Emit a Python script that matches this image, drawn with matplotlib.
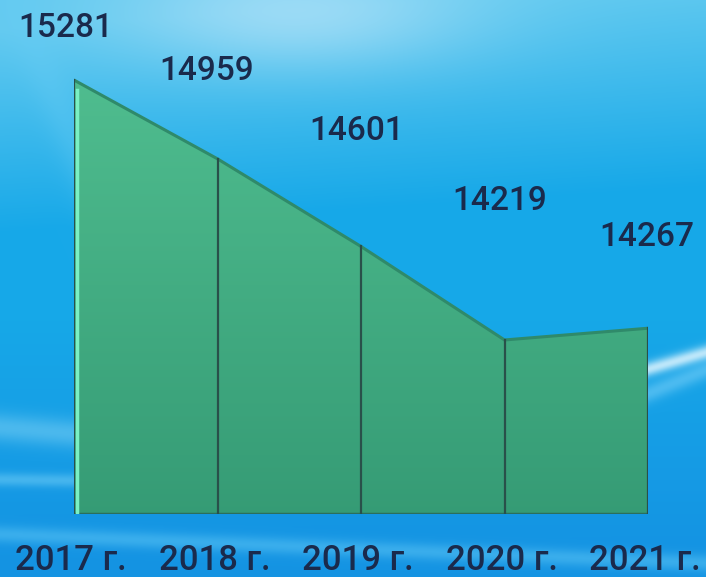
"""
Area chart 2017-2021 on a blue gradient backdrop.
"""
import numpy as np
import matplotlib
matplotlib.use('Agg')
import matplotlib.pyplot as plt
from matplotlib.patches import Polygon

years = ['2017 г.', '2018 г.', '2019 г.', '2020 г.', '2021 г.']
values = [15281, 14959, 14601, 14219, 14267]
# label lift above each point, in pixels
label_lift = [52, 88, 115, 139, 91]
label_shift = [-8, -11, -4, -5, -1]

W, H, DPI = 706, 577, 100
TEXT = '#1a2a4c'
FONT = ['Roboto', 'DejaVu Sans']


def backdrop(h, w):
    yy, xx = np.mgrid[0:h, 0:w]
    y = yy / h
    x = xx / w
    top = np.array([0.38, 0.79, 0.94])
    mid = np.array([0.09, 0.66, 0.91])
    low = np.array([0.08, 0.58, 0.89])
    f = np.clip((y - 0.05 + 0.08 * x) / 0.35, 0, 1)
    img = top * (1 - f[..., None]) + mid * f[..., None]
    g = np.clip((y - 0.55) / 0.4, 0, 1)
    img = img * (1 - g[..., None]) + low * g[..., None]

    def blob(cx, cy, sx, sy, strength, col):
        k = strength * np.exp(-((x - cx) / sx) ** 2 - ((y - cy) / sy) ** 2)
        return k[..., None] * (np.array(col) - img)

    def ridge(a, b, c, width, strength, col):
        d = (a * x + b * y + c) / np.hypot(a, b)
        k = strength * np.exp(-(d / width) ** 2)
        return k[..., None] * (np.array(col) - img)

    img = img + blob(0.42, 0.02, 0.25, 0.10, 0.75, [0.68, 0.88, 0.97])
    img = img + ridge(1.0, -0.35, -0.02, 0.03, 0.35, [0.40, 0.80, 0.96]) * (y < 0.55)[..., None]
    img = img + ridge(0.1, -1.0, 0.74, 0.025, 0.45, [0.55, 0.85, 0.97]) * (x < 0.12)[..., None]
    img = img + ridge(0.02, -1.0, 0.83, 0.012, 0.45, [0.50, 0.84, 0.98]) * (x < 0.12)[..., None]
    img = img + ridge(-0.35, -1.0, 0.96, 0.012, 0.8, [0.90, 0.97, 1.0]) * (x > 0.9)[..., None]
    img = img + ridge(-0.5, -1.0, 1.14, 0.015, 0.45, [0.55, 0.85, 0.99]) * (x > 0.9)[..., None]
    img = img + ridge(0.05, -1.0, 0.925, 0.015, 0.45, [0.40, 0.80, 0.97])
    return np.clip(img, 0, 1)


fig = plt.figure(figsize=(W / DPI, H / DPI), dpi=DPI)
bg = fig.add_axes([0, 0, 1, 1])
bg.imshow(backdrop(H, W), aspect='auto', extent=[0, 1, 0, 1], origin='upper')
bg.set_axis_off()

x0, x1, ybot = 74, 648, 514
ax = fig.add_axes([x0 / W, (H - ybot) / H, (x1 - x0) / W, ybot / H])
ax.patch.set_alpha(0)
ymin, ymax = 13508, 15608
xs = np.arange(len(values))
ax.set_xlim(0, len(values) - 1)
ax.set_ylim(ymin, ymax)
ax.set_axis_off()

verts = [(xs[0], ymin)] + list(zip(xs, values)) + [(xs[-1], ymin)]
poly = Polygon(verts, closed=True, facecolor='none', edgecolor='none')
ax.add_patch(poly)
grad = np.linspace(0, 1, 256)[:, None]
top_c = np.array([0.31, 0.74, 0.56])
bot_c = np.array([0.21, 0.61, 0.46])
gimg = top_c * (1 - grad[..., None]) + bot_c * grad[..., None]
im = ax.imshow(gimg, aspect='auto', extent=[0, len(values) - 1, ymin, max(values)],
               origin='upper', zorder=2)
im.set_clip_path(poly)

ax.plot(xs, values, color='#2f8a6a', lw=2.2, zorder=3, solid_capstyle='butt')
ax.plot([xs[0], xs[-1]], [ymin, ymin], color='#2b6f5c', lw=2.5, zorder=3)
for xi, v in zip(xs, values):
    ax.plot([xi, xi], [ymin, v], color='#29504a', lw=1.6, zorder=4)
ax.plot([xs[0] + 0.02, xs[0] + 0.02], [ymin, values[0] - 40], color='#7af0c4', lw=2.5, zorder=4)

for xi, v, lift, sh in zip(xs, values, label_lift, label_shift):
    ax.annotate(str(v), (xi, v), xytext=(sh * 0.72, lift * 0.72), textcoords='offset points',
                ha='center', va='center', fontsize=24, fontweight='medium', color=TEXT,
                family=FONT, annotation_clip=False, zorder=5)

for xi, lab in zip(xs, years):
    ax.annotate(lab, (xi, ymin), xytext=(-3 * 0.72, -46 * 0.72), textcoords='offset points',
                ha='center', va='center', fontsize=25, fontweight='medium', color=TEXT,
                family=FONT, annotation_clip=False, zorder=5)

fig.savefig('out.png', dpi=DPI)
